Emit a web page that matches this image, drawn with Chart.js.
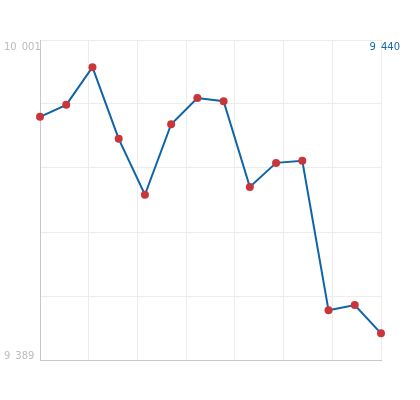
<!DOCTYPE html>
<html lang="en">
<head>
    <script src="https://cdn.jsdelivr.net/npm/chart.js"></script>
    <title>Line</title>
    <style>
        body { margin: 0; background: white; }
        canvas { display: block; }
    </style>
</head>
<body>
    <canvas id="lineChartCanvas" width="420" height="400"></canvas>
    <script>
        // values, one per point
        var values = [9854, 9877, 9949, 9812, 9705, 9840, 9890, 9884, 9720, 9766, 9770, 9484, 9494, 9440];
        var yMin = 9389;
        var yMax = 10001;
        var tickLabels = ["10 001", "9 389"];
        var lastLabel = "9 440";

        var points = values.map(function(v, i) { return { x: i, y: v }; });

        function fmt(s) {
            return s.replace(" ", "\u2002");
        }

        var labelsPlugin = {
            id: "labels",
            afterDraw: function(chart) {
                var ctx = chart.ctx;
                var y = chart.scales.y;
                ctx.save();
                ctx.font = "10px 'DejaVu Sans'";
                ctx.fillStyle = "#bcbcbc";
                ctx.textAlign = "left";
                ctx.textBaseline = "middle";
                ctx.fillText(fmt(tickLabels[0]), 4, y.getPixelForValue(yMax) + 7);
                ctx.fillText(fmt(tickLabels[1]), 4, y.getPixelForValue(yMin) - 4);
                ctx.fillStyle = "#1668a8";
                ctx.textAlign = "right";
                ctx.fillText(fmt(lastLabel), 400, y.getPixelForValue(yMax) + 7);
                ctx.restore();
            }
        };

        var ctx = document.getElementById("lineChartCanvas").getContext("2d");
        var lineChart = new Chart(ctx, {
            type: "line",
            data: {
                datasets: [{
                    data: points,
                    borderColor: "#0e63a9",
                    borderWidth: 2,
                    pointRadius: 4,
                    pointBackgroundColor: "#c8363a",
                    pointBorderColor: "#c8363a",
                    pointBorderWidth: 0,
                    tension: 0,
                    fill: false,
                    clip: false
                }]
            },
            options: {
                responsive: false,
                animation: false,
                layout: {
                    autoPadding: false,
                    padding: { left: 40, top: 40, right: 39, bottom: 40 }
                },
                plugins: {
                    legend: { display: false },
                    tooltip: { enabled: false }
                },
                scales: {
                    x: {
                        type: "linear",
                        min: 0,
                        max: values.length - 1,
                        ticks: { display: false, count: 8 },
                        grid: { color: "#ececec", drawTicks: false },
                        border: { color: "#c8c8c8" }
                    },
                    y: {
                        min: yMin,
                        max: yMax,
                        ticks: { display: false, count: 6 },
                        grid: { color: "#ececec", drawTicks: false },
                        border: { color: "#c8c8c8" }
                    }
                }
            },
            plugins: [labelsPlugin]
        });
    </script>
</body>
</html>
